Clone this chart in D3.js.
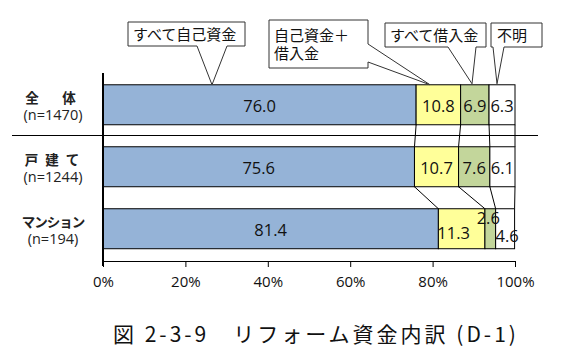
<!DOCTYPE html>
<html>
<head>
<meta charset="utf-8">
<script src="https://cdn.jsdelivr.net/npm/d3@7"></script>
<style>
  body { margin: 0; background: #fff; }
  text { font-family: "Open Sans", sans-serif; }
  .jp { font-family: "Noto Sans CJK JP", sans-serif; }
</style>
</head>
<body>
<div id="chart"></div>
<script>
const width = 571;
const height = 361;

// data
const categories = ["全　体", "戸 建 て", "マンション"];
const sampleSizes = ["(n=1470)", "(n=1244)", "(n=194)"];
const seriesNames = ["すべて自己資金", "自己資金＋借入金", "すべて借入金", "不明"];
const selfFunds = [76.0, 75.6, 81.4];
const mixedFunds = [10.8, 10.7, 11.3];
const borrowed = [6.9, 7.6, 2.6];
const unknown = [6.3, 6.1, 4.6];
const xTicks = [0, 20, 40, 60, 80, 100];
const title = "図 2-3-9　リフォーム資金内訳 (D-1)";

const seriesValues = [selfFunds, mixedFunds, borrowed, unknown];
const colors = ["#95b3d7", "#ffff99", "#c3d69b", "#ffffff"];

const svg = d3.select("#chart")
  .append("svg")
  .attr("width", width)
  .attr("height", height);

svg.append("rect").attr("width", width).attr("height", height).attr("fill", "#fff");

const x = d3.scaleLinear().domain([0, 100]).range([103, 515]);
const y = d3.scaleBand()
  .domain(categories)
  .range([73, 260.5])
  .paddingInner(0.355)
  .paddingOuter(0.19);

// stacked rows
const rows = categories.map((c, i) => {
  let acc = 0;
  return seriesValues.map((vals, s) => {
    const seg = { cat: c, row: i, series: s, x0: acc, x1: acc + vals[i], value: vals[i] };
    acc += vals[i];
    return seg;
  });
});

// connector lines between bars
const connectors = [];
for (let i = 0; i < rows.length - 1; i++) {
  rows[i].forEach((seg, s) => {
    connectors.push({
      x1: x(seg.x1), y1: y(categories[i]) + y.bandwidth(),
      x2: x(rows[i + 1][s].x1), y2: y(categories[i + 1])
    });
  });
}
svg.selectAll(".conn")
  .data(connectors)
  .enter().append("line")
  .attr("class", "conn")
  .attr("x1", d => d.x1).attr("y1", d => d.y1)
  .attr("x2", d => d.x2).attr("y2", d => d.y2)
  .attr("stroke", "#000").attr("stroke-width", 1);

// separator under 全体
svg.append("line")
  .attr("x1", 12).attr("x2", 538)
  .attr("y1", 135.5).attr("y2", 135.5)
  .attr("stroke", "#000").attr("stroke-width", 1.2);

// bars
svg.selectAll(".seg")
  .data(rows.flat())
  .enter().append("rect")
  .attr("class", "seg")
  .attr("x", d => x(d.x0))
  .attr("y", d => y(d.cat))
  .attr("width", d => x(d.x1) - x(d.x0))
  .attr("height", y.bandwidth())
  .attr("fill", d => colors[d.series])
  .attr("stroke", "#000")
  .attr("stroke-width", 1);

// value labels (small segments of マンション nudged like the original)
function nudge(d) {
  if (d.row === 2 && d.series === 1) return [-8, 4];
  if (d.row === 2 && d.series === 2) return [-2, -11];
  if (d.row === 2 && d.series === 3) return [2, 7];
  return [0, 1];
}
svg.selectAll(".val")
  .data(rows.flat())
  .enter().append("text")
  .attr("class", "val")
  .attr("x", d => (x(d.x0) + x(d.x1)) / 2 + nudge(d)[0])
  .attr("y", d => y(d.cat) + y.bandwidth() / 2 + nudge(d)[1])
  .attr("dy", "0.35em")
  .attr("text-anchor", "middle")
  .attr("font-size", 16.5)
  .attr("fill", "#111")
  .text(d => d.value.toFixed(1));

// y axis line
svg.append("line")
  .attr("x1", x(0)).attr("x2", x(0))
  .attr("y1", 73).attr("y2", 266)
  .attr("stroke", "#000").attr("stroke-width", 2);

// x axis
const xAxis = svg.append("g")
  .attr("transform", "translate(0,261)")
  .call(d3.axisBottom(x).tickValues(xTicks).tickSize(6).tickSizeOuter(0).tickFormat(d => d + "%"));
xAxis.select(".domain").attr("stroke", "#000");
xAxis.selectAll(".tick line").attr("stroke", "#000");
xAxis.selectAll(".tick text")
  .attr("font-size", 15)
  .attr("font-family", "Open Sans, sans-serif")
  .attr("fill", "#111")
  .attr("y", 15);

// category labels
categories.forEach((c, i) => {
  const cy = y(c) + y.bandwidth() / 2;
  svg.append("text")
    .attr("class", "jp")
    .attr("x", 53).attr("y", cy - 2)
    .attr("text-anchor", "middle")
    .attr("font-size", 13.5)
    .attr("font-weight", "bold")
    .attr("letter-spacing", c.includes("　") ? 5 : c.includes(" ") ? 2 : -1)
    .attr("fill", "#222")
    .style("white-space", "pre")
    .text(c);
  svg.append("text")
    .attr("x", 53).attr("y", cy + 15)
    .attr("text-anchor", "middle")
    .attr("font-size", 14.5)
    .attr("fill", "#222")
    .text(sampleSizes[i]);
});

// callouts
const barTop = y(categories[0]);
const callouts = [
  { path: `M128,22H245V46H227L212,${barTop}L197,46H128Z`, lines: [seriesNames[0]], tx: 133, ty: 40 },
  { path: `M269,20H368V44L430,${barTop}L368,62V68H269Z`, lines: ["自己資金＋", "借入金"], tx: 274, ty: 41 },
  { path: `M385,23H486V47H476L472,${barTop - 1}L448,47H385Z`, lines: [seriesNames[2]], tx: 390, ty: 41 },
  { path: `M491,23H542V47H504L497,${barTop - 1}L493,47H491Z`, lines: [seriesNames[3]], tx: 497, ty: 41 }
];
const co = svg.selectAll(".callout")
  .data(callouts)
  .enter().append("g")
  .attr("class", "callout");
co.append("path")
  .attr("d", d => d.path)
  .attr("fill", "#fff")
  .attr("stroke", "#333")
  .attr("stroke-width", 1);
co.each(function (d) {
  d3.select(this).selectAll("text")
    .data(d.lines)
    .enter().append("text")
    .attr("class", "jp")
    .attr("x", d.tx)
    .attr("y", (t, j) => d.ty + j * 18)
    .attr("font-size", 15)
    .attr("fill", "#111")
    .text(t => t);
});

// title
svg.append("text")
  .attr("class", "jp")
  .attr("x", 113).attr("y", 342)
  .attr("font-size", 21)
  .attr("letter-spacing", 3)
  .attr("fill", "#111")
  .style("white-space", "pre")
  .text(title);
</script>
</body>
</html>
